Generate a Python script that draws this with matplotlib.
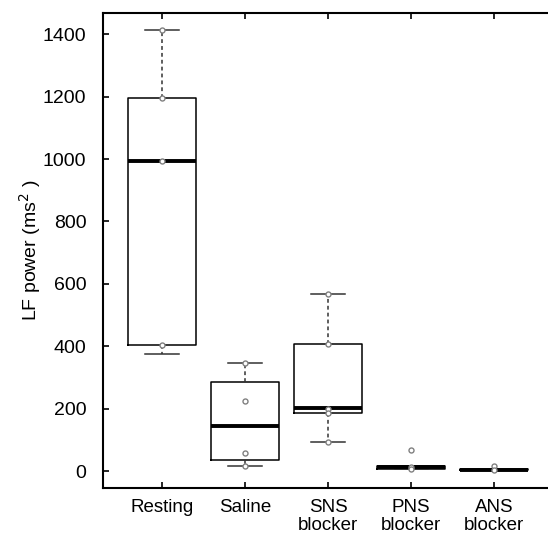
import matplotlib
matplotlib.use("Agg")
import matplotlib.pyplot as plt

plt.rcParams['font.family'] = ['Liberation Sans', 'DejaVu Sans']

categories = ["Resting", "Saline", "SNS\nblocker", "PNS\nblocker", "ANS\nblocker"]
q1 = [405, 37, 187, 8, 3]
median = [995, 144, 201, 12, 5]
q3 = [1195, 286, 408, 16, 7]
whis_lo = [375, 16, 94, 6, 3]
whis_hi = [1415, 345, 569, 16, 7]
points = [
    [1415, 1195, 995, 405],
    [345, 226, 57, 16],
    [569, 408, 199, 185, 94],
    [67, 14, 6],
    [17, 3],
]
yticks = [0, 200, 400, 600, 800, 1000, 1200, 1400]

fig = plt.figure(figsize=(5.48, 5.35), dpi=100)
ax = fig.add_axes([103/548, 1 - 488/535, 446/548, (488 - 13)/535])

stats = []
for i in range(len(categories)):
    stats.append(dict(q1=q1[i], med=median[i], q3=q3[i],
                      whislo=whis_lo[i], whishi=whis_hi[i], fliers=[]))
positions = list(range(1, len(categories) + 1))
ax.bxp(stats, positions=positions, widths=0.82, showfliers=False,
       boxprops=dict(color='black', linewidth=1.1),
       medianprops=dict(color='black', linewidth=2.8, solid_capstyle='butt'),
       whiskerprops=dict(color='#333333', linewidth=1.1, linestyle=(0, (2.5, 2))),
       capprops=dict(color='#333333', linewidth=1.1),
       capwidths=0.4)

for i, pts in enumerate(points):
    ax.plot([positions[i]] * len(pts), pts, linestyle='none', marker='o',
            markersize=3.6, markerfacecolor='white', markeredgecolor='#808080',
            markeredgewidth=1.0, zorder=5)

ax.set_xlim(0.29, 5.66)
ax.set_ylim(-54, 1468)
ax.set_yticks(yticks)
ax.set_xticks(positions)
ax.set_xticklabels(categories, fontsize=13.5, linespacing=1.1)
ax.tick_params(axis='y', labelsize=14, direction='in', length=4, width=1.2,
               pad=12, right=False)
ax.tick_params(axis='x', direction='in', length=4, width=1.2, top=True, pad=8)
ax.set_ylabel("LF power (ms$^2$ )", fontsize=14, labelpad=0)

for s in ['left', 'top', 'bottom']:
    ax.spines[s].set_linewidth(1.5)
ax.spines['right'].set_visible(False)

fig.savefig("out.png", dpi=100)
